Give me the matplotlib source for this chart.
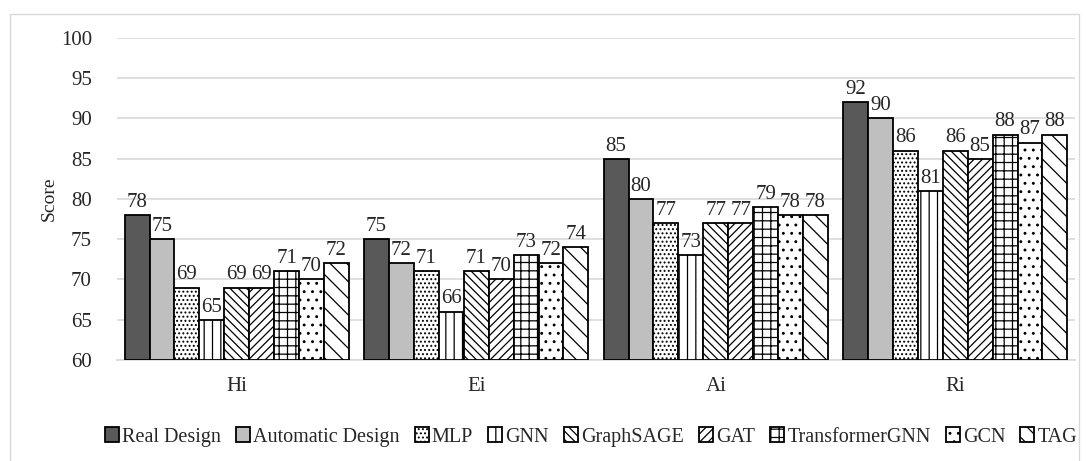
import matplotlib
matplotlib.use("Agg")

import matplotlib.pyplot as plt
import numpy as np
from matplotlib.patches import Rectangle

plt.rcParams["font.family"] = ["Liberation Serif", "DejaVu Serif"]
plt.rcParams["hatch.linewidth"] = 0.9

categories = ["Hi", "Ei", "Ai", "Ri"]
series_names = ["Real Design", "Automatic Design", "MLP", "GNN", "GraphSAGE",
                "GAT", "TransformerGNN", "GCN", "TAG"]
real_design = [78, 75, 85, 92]
automatic_design = [75, 72, 80, 90]
mlp = [69, 71, 77, 86]
gnn = [65, 66, 73, 81]
graphsage = [69, 71, 77, 86]
gat = [69, 70, 77, 85]
transformer_gnn = [71, 73, 79, 88]
gcn = [70, 72, 78, 87]
tag = [72, 74, 78, 88]
y_ticks = [60, 65, 70, 75, 80, 85, 90, 95, 100]

all_series = [real_design, automatic_design, mlp, gnn, graphsage,
              gat, transformer_gnn, gcn, tag]
faces = ["#595959", "#bfbfbf"] + ["white"] * 7
hatches = [None, None, "....", "||", "\\\\\\\\", "////", "++", "..", "\\\\"]

fig = plt.figure(figsize=(10.89, 4.61), dpi=100)
# light chart frame
fig.patches.append(Rectangle((10 / 1089, -0.01), 1069 / 1089, 1 - 14 / 461 + 0.01,
                             transform=fig.transFigure, fill=False,
                             edgecolor="#d9d9d9", linewidth=1.0))

ax = fig.add_axes([117 / 1089, 1 - 360 / 461, 958 / 1089, 322 / 461])

n = len(all_series)
width = 0.104
x = np.arange(len(categories))
for i, (name, vals) in enumerate(zip(series_names, all_series)):
    pos = x + (i - (n - 1) / 2) * width
    ax.bar(pos, [v - 60 for v in vals], width=width, bottom=60,
           color=faces[i], edgecolor="black", linewidth=1.3,
           hatch=hatches[i], label=name, zorder=3)
    for p, v in zip(pos, vals):
        ax.text(p, v + 0.4, str(v), ha="center", va="bottom",
                fontsize=15, color="#262626", zorder=4)

ax.set_xlim(-0.5, len(categories) - 0.5)
ax.set_ylim(60, 100)
ax.set_yticks(y_ticks)
ax.set_xticks(x)
ax.set_xticklabels(categories)
ax.yaxis.grid(True, color="#d9d9d9", linewidth=1.2, zorder=0)
ax.set_axisbelow(True)
for s in ["left", "right", "top"]:
    ax.spines[s].set_visible(False)
ax.spines["bottom"].set_color("#d9d9d9")
ax.spines["bottom"].set_linewidth(1.2)
ax.tick_params(axis="both", length=0, labelsize=15, colors="#262626")
ax.tick_params(axis="y", pad=18)
ax.tick_params(axis="x", pad=12)
ax.set_ylabel("Score", fontsize=14, color="#262626", labelpad=2)

ax.legend(loc="center", bbox_to_anchor=(591 / 1089, 1 - 437 / 461),
          bbox_transform=fig.transFigure, ncol=9, frameon=False,
          fontsize=14.5, handlelength=0.7, handleheight=0.7,
          handletextpad=0.15, columnspacing=0.75, labelcolor="#262626",
          borderpad=0)

fig.savefig("out.png", dpi=100)
